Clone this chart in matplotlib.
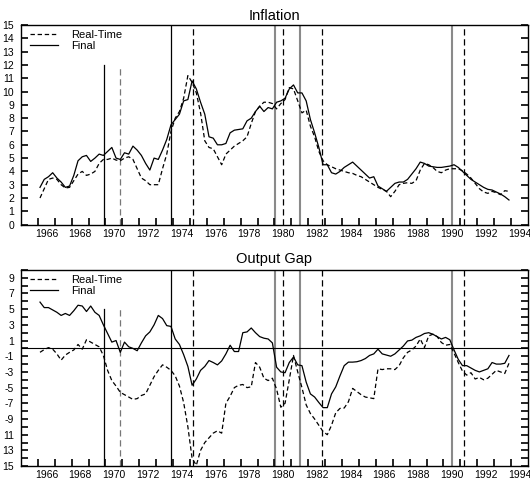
import numpy as np
import matplotlib
matplotlib.use("Agg")
import matplotlib.pyplot as plt
import matplotlib.ticker as ticker

plt.rcParams['font.family'] = ['Liberation Sans Narrow', 'Liberation Sans', 'DejaVu Sans']

# quarterly time axis (mid-quarter), 1966Q1 .. 1993Q4
quarters = np.arange(1966.125, 1994.0, 0.25)

infl_final = [2.8, 3.4, 3.6, 3.9, 3.5, 3.2, 2.8, 2.9, 3.7, 4.8, 5.1, 5.2, 4.75, 5.0, 5.3, 5.2,
              5.5, 5.8, 5.0, 4.9, 5.4, 5.3, 5.9, 5.6, 5.2, 4.6, 4.1, 5.0, 4.9, 5.6, 6.4, 7.5,
              7.9, 8.3, 9.3, 9.4, 10.8, 10.2, 9.2, 8.3, 6.6, 6.5, 6.0, 6.0, 6.1, 6.9, 7.1, 7.15,
              7.2, 7.8, 8.0, 8.5, 8.9, 8.5, 8.8,
              8.7, 9.2, 9.3, 9.5, 10.2, 10.5, 9.9, 9.9, 9.3, 7.9, 6.9, 5.8, 4.5, 4.5, 3.9, 3.8,
              4.0, 4.3, 4.5, 4.7, 4.4, 4.1, 3.8, 3.5, 3.6, 2.9, 2.7, 2.5, 2.8, 3.1, 3.2, 3.2,
              3.4, 3.8, 4.2, 4.7, 4.6, 4.4, 4.35, 4.3, 4.3, 4.35, 4.4, 4.5, 4.3, 4.0, 3.7, 3.4,
              3.2, 3.0, 2.8, 2.65, 2.6, 2.45, 2.3, 2.1, 1.85]

infl_rt = [2.0, 2.7, 3.4, 3.5, 3.4, 3.0, 2.75, 2.8, 3.3, 3.8, 4.0, 3.7, 3.8, 4.0, 4.6, 4.9,
           4.9, 5.0, 4.85, 4.8, 5.0, 5.1, 4.9, 4.2, 3.5, 3.3, 3.0, 3.0, 3.0, 4.2, 5.3, 7.0,
           8.0, 8.5, 9.5, 11.2, 10.7, 9.9, 8.4, 6.3, 5.8, 5.7, 5.1, 4.5, 5.3, 5.6, 5.9, 6.1,
           6.3, 6.6, 7.6, 8.5, 8.9, 9.2, 9.2,
           9.1, 8.7, 9.1, 9.4, 10.3, 10.2, 9.3, 8.4, 8.6, 7.4, 6.6, 5.5, 4.8, 4.5, 4.35, 4.2,
           4.1, 4.0, 3.9, 3.85, 3.7, 3.6, 3.4, 3.2, 3.0, 2.8, 2.65, 2.5, 2.1, 2.5, 3.0, 3.1,
           3.15, 3.1, 3.3, 4.1, 4.6, 4.5, 4.3, 4.0, 3.9, 4.1, 4.2, 4.2, 4.2, 4.05, 3.8, 3.5,
           3.1, 2.7, 2.45, 2.35, 2.5, 2.4, 2.25, 2.55, 2.5]

gap_final = [5.9, 5.2, 5.2, 4.9, 4.6, 4.2, 4.45, 4.2, 4.8, 5.5, 5.4, 4.7, 5.4, 4.6, 4.2, 3.0,
             1.9, 0.8, 1.0, -0.5, 0.8, 0.2, 0.0, -0.3, 0.7, 1.6, 2.1, 3.0, 4.2, 3.8, 2.9, 2.8,
             1.2, 0.5, -0.8, -2.3, -4.7, -3.9, -2.8, -2.3, -1.55, -1.8, -2.1, -1.6, -0.7, 0.4,
             -0.4, -0.4, 2.0, 2.1, 2.6, 2.0, 1.5, 1.3, 1.2,
             0.7, -2.4, -3.0, -3.1, -1.8, -1.1, -2.1, -2.2, -4.3, -5.8, -6.2, -6.9, -7.55, -7.55,
             -5.8, -4.9, -3.5, -2.2, -1.75, -1.75, -1.7, -1.55, -1.3, -0.9, -0.7, -0.1, -0.7,
             -0.85, -1.0, -0.7, -0.2, 0.3, 0.95, 1.05, 1.4, 1.6, 1.9, 2.0, 1.8, 1.5, 1.2, 1.4,
             1.1, -0.2, -1.4, -2.2, -2.2, -2.5, -2.8, -3.0, -2.8, -2.6, -1.8, -2.0, -2.0, -1.9, -0.9]

gap_rt = [-0.5, -0.15, 0.1, -0.1, -0.7, -1.5, -0.85, -0.5, -0.2, 0.5, -0.1, 1.1, 0.8, 0.5, 0.2,
          -0.9, -2.8, -4.1, -4.8, -5.6, -5.9, -6.2, -6.5, -6.4, -6.0, -5.8, -4.7, -3.6, -2.8,
          -2.1, -2.4, -2.8, -3.5, -4.8, -6.9, -10.0, -14.0, -14.9, -13.0, -12.0, -11.4, -10.8,
          -10.5, -10.8, -7.0, -6.1, -5.0, -4.7, -4.6, -5.0, -4.9, -1.8, -2.4, -3.8, -4.1,
          -3.8, -5.2, -7.5, -7.0, -4.0, -0.9, -3.0, -5.0, -7.2, -8.3, -9.0, -9.8, -10.6, -11.0,
          -9.8, -8.2, -7.65, -7.6, -6.8, -5.1, -5.5, -5.9, -6.2, -6.3, -6.4, -2.6, -2.7, -2.6,
          -2.6, -2.7, -2.2, -1.2, -0.5, -0.2, 0.3, 1.2, 0.1, 1.6, 1.8, 1.5, 0.75, 0.4, 0.5,
          -0.6, -1.8, -2.9, -3.4, -3.1, -3.9, -3.7, -4.0, -3.8, -3.3, -2.8, -3.0, -3.2, -1.9]

# business-cycle dates: peaks (solid) and troughs (dashed)
peaks = [1969.94, 1973.86, 1980.03, 1981.5, 1990.48]
troughs = [1970.86, 1975.2, 1980.48, 1982.83, 1991.23]
peak_colors = ['black', 'black', '#8a8a8a', '#8a8a8a', '#8a8a8a']
trough_colors = ['#777777', 'black', 'black', 'black', 'black']

year_ticks = np.arange(1966, 1995)
year_labels = np.arange(1966, 1995, 2)

gap_ticks = [9, 7, 5, 3, 1, -1, -3, -5, -7, -9, -11, -13, -15]
gap_ticklabels = ['9', '7', '5', '3', '1', '-1', '-3', '-5', '-7', '-9', '11', '13', '15']

legend_font = {'family': ['Liberation Sans', 'DejaVu Sans'], 'size': 8}


def style_xaxis(ax):
    ax.set_xlim(1965, 1995)
    ax.xaxis.set_major_locator(ticker.FixedLocator(year_ticks))
    ax.xaxis.set_major_formatter(ticker.NullFormatter())
    ax.xaxis.set_minor_locator(ticker.FixedLocator(year_labels + 0.5))
    ax.xaxis.set_minor_formatter(ticker.FixedFormatter([str(y) for y in year_labels]))
    ax.tick_params(axis='x', which='major', direction='in', length=5, width=1.2, top=False)
    ax.tick_params(axis='x', which='minor', length=0, labelsize=7.5, pad=3, top=False)
    for s in ax.spines.values():
        s.set_linewidth(1.0)


def draw_cycles(ax, short_top, ymin, ymax):
    for k, (p, c) in enumerate(zip(peaks, peak_colors)):
        top = short_top if k == 0 else ymax
        lw = 0.9 if c == 'black' else 1.5
        ax.plot([p, p], [ymin, top], color=c, lw=lw, zorder=1)
    for k, (t, c) in enumerate(zip(troughs, trough_colors)):
        top = short_top if k == 0 else ymax
        ax.plot([t, t], [ymin, top], color=c, lw=0.9, dashes=(5, 3), zorder=1)


def add_legend(ax):
    ax.legend(loc='upper left', bbox_to_anchor=(0.014, 0.985), frameon=False,
              handlelength=2.5, handletextpad=1.2, labelspacing=0.05,
              borderaxespad=0.0, borderpad=0.2, prop=legend_font)


fig = plt.figure(figsize=(5.3, 4.82), dpi=100)
ax1 = fig.add_axes([0.0396, 0.534, 0.9566, 0.414])
ax2 = fig.add_axes([0.0396, 0.033, 0.9566, 0.407])

# Inflation panel
draw_cycles(ax1, 12, 0, 15)
ax1.plot(quarters, infl_rt, color='black', lw=0.9, dashes=(3.5, 2.2), label='Real-Time')
ax1.plot(quarters, infl_final, color='black', lw=0.9, label='Final')
ax1.set_ylim(0, 15)
ax1.yaxis.set_major_locator(ticker.MultipleLocator(1))
ax1.tick_params(axis='y', direction='in', length=5, width=1.2, right=True, labelsize=7.5, pad=5)
style_xaxis(ax1)
ax1.set_title('Inflation', fontsize=10.5, pad=4, family=['Liberation Sans', 'DejaVu Sans'])
add_legend(ax1)

# Output gap panel
draw_cycles(ax2, 5, -15, 10)
ax2.axhline(0, color='black', lw=0.8, zorder=1)
ax2.plot(quarters, gap_rt, color='black', lw=0.9, dashes=(3.5, 2.2), label='Real-Time')
ax2.plot(quarters, gap_final, color='black', lw=0.9, label='Final')
ax2.set_ylim(-15, 10)
ax2.yaxis.set_major_locator(ticker.FixedLocator(gap_ticks))
ax2.yaxis.set_major_formatter(ticker.FixedFormatter(gap_ticklabels))
ax2.yaxis.set_minor_locator(ticker.MultipleLocator(1))
ax2.tick_params(axis='y', which='both', direction='in', length=5, width=1.2, right=True,
                labelsize=7.5, pad=5)
style_xaxis(ax2)
ax2.set_title('Output Gap', fontsize=10.5, pad=5, family=['Liberation Sans', 'DejaVu Sans'])
add_legend(ax2)

fig.savefig('out.png', dpi=100)
